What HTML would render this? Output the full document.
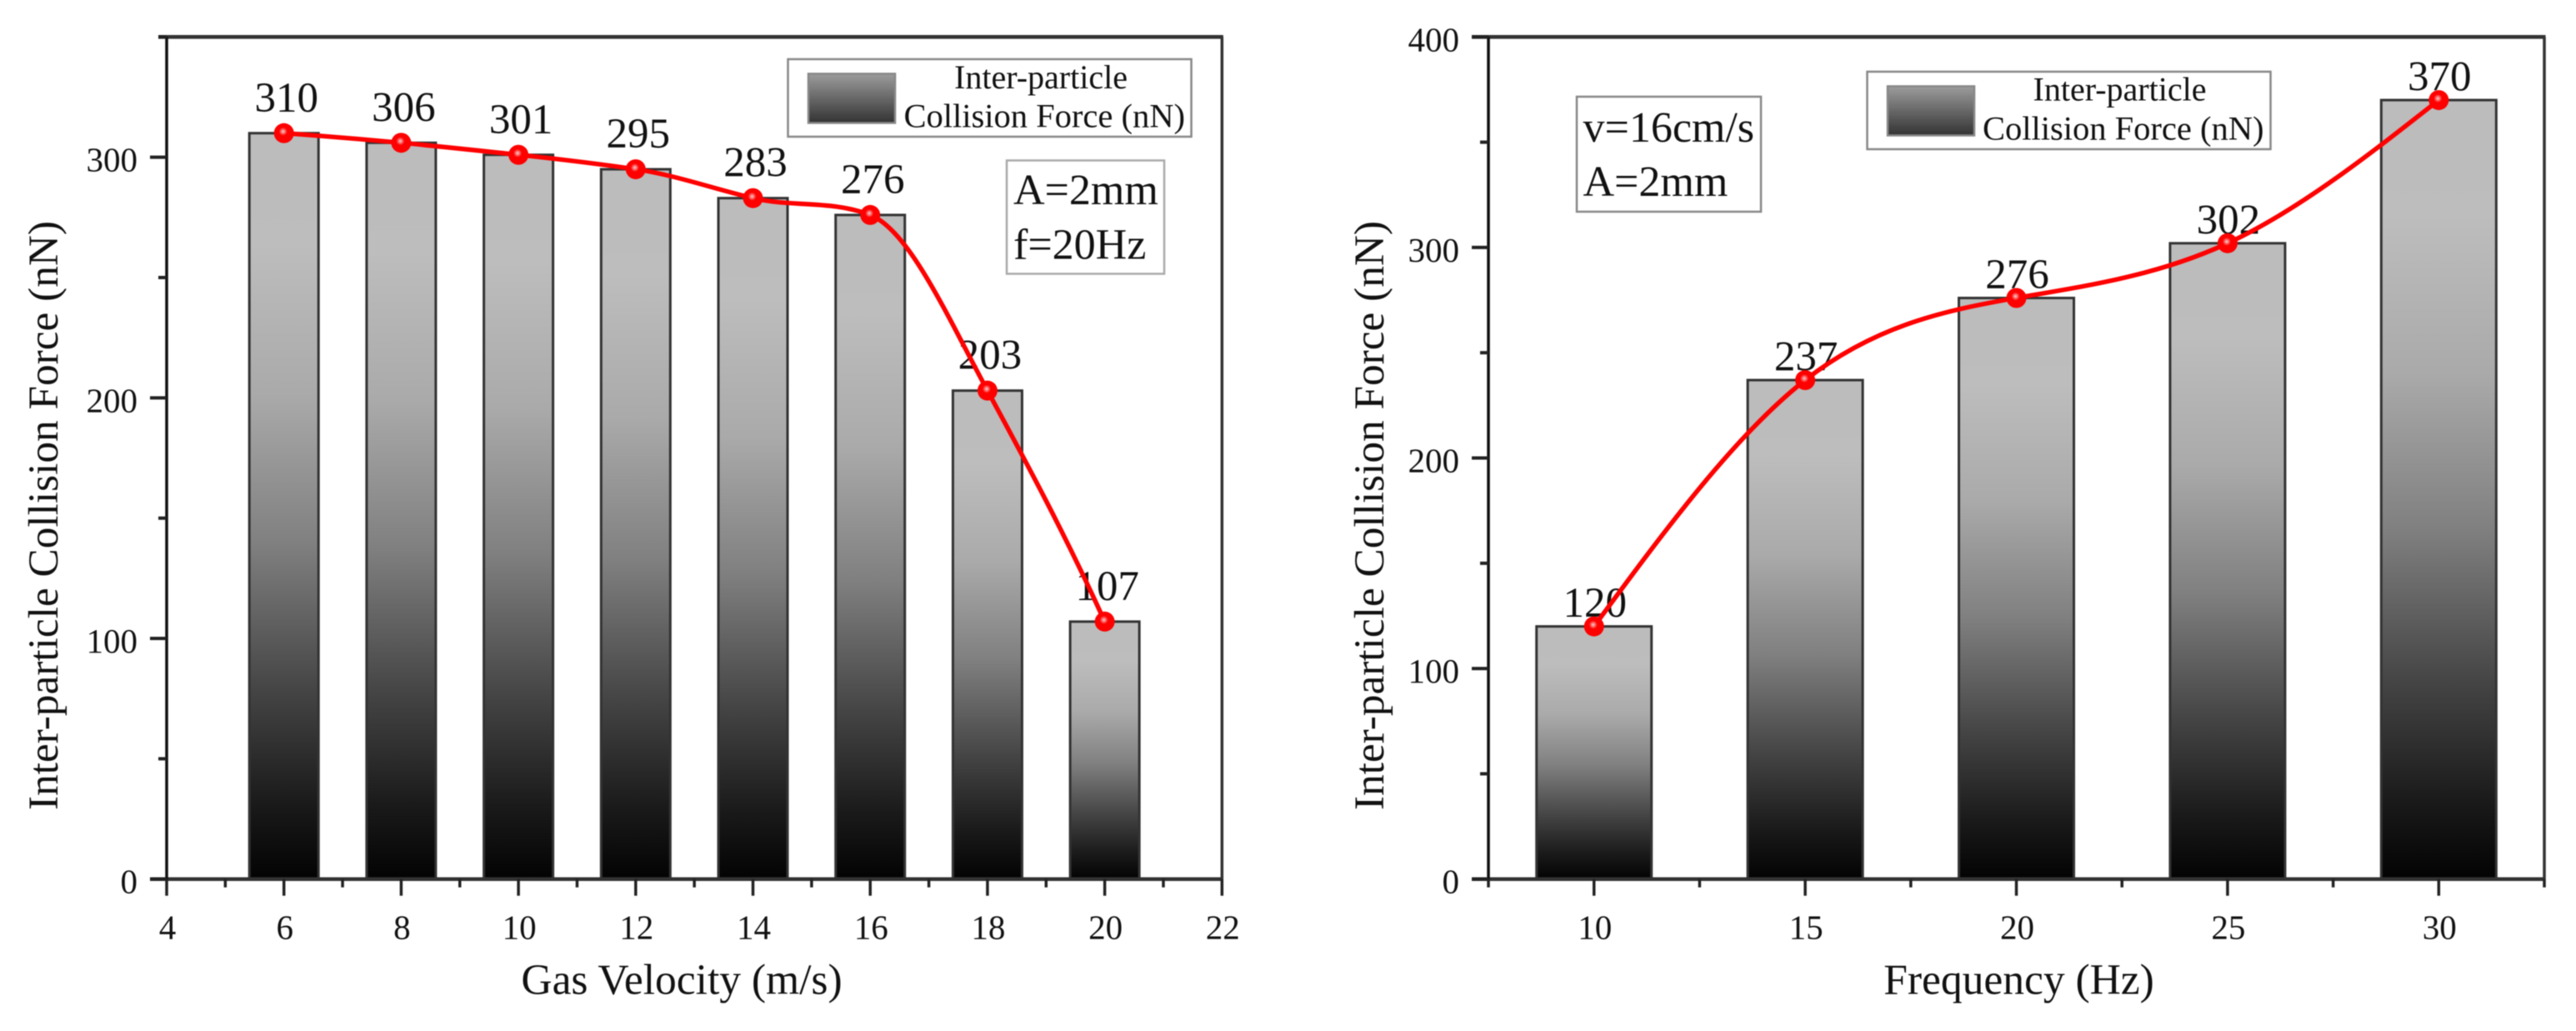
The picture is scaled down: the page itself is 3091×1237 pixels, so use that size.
<!DOCTYPE html>
<html lang="en">
<head>
<meta charset="utf-8">
<title>Inter-particle Collision Force charts</title>
<style>
html,body{margin:0;padding:0;background:#fff;width:3091px;height:1237px;overflow:hidden}
svg{display:block;filter:blur(0.6px)}
text{font-family:"Liberation Serif","Times New Roman",serif;fill:#111}
</style>
</head>
<body>
<svg id="fig" xmlns="http://www.w3.org/2000/svg" width="3091" height="1237" viewBox="0 0 3091 1237">
  <defs>
    <linearGradient id="barGrad" x1="0" y1="0" x2="0" y2="1">
      <stop offset="0" stop-color="#bcbcbc"/>
      <stop offset="0.15" stop-color="#bdbdbd"/>
      <stop offset="0.35" stop-color="#aaaaaa"/>
      <stop offset="0.55" stop-color="#808080"/>
      <stop offset="0.75" stop-color="#444444"/>
      <stop offset="0.9" stop-color="#1a1a1a"/>
      <stop offset="1" stop-color="#030303"/>
    </linearGradient>
    <linearGradient id="swatchGrad" x1="0" y1="0" x2="0" y2="1">
      <stop offset="0" stop-color="#9c9c9c"/>
      <stop offset="1" stop-color="#333333"/>
    </linearGradient>
    <radialGradient id="markerHi" cx="0.5" cy="0.5" r="0.5">
      <stop offset="0" stop-color="#ffd0d0"/>
      <stop offset="1" stop-color="#ff0000"/>
    </radialGradient>
  </defs>

  <g id="left-chart"></g>
  <g id="right-chart"></g>

  <g>
    <rect x="945.5" y="71" width="484" height="93" fill="#fff" stroke="#888" stroke-width="2.5"/>
    <rect x="970" y="88.5" width="104" height="59" fill="url(#swatchGrad)" stroke="#888" stroke-width="2.5"/>
    <text x="1249" y="106" font-size="40" text-anchor="middle">Inter-particle</text>
    <text x="1084.5" y="152.5" font-size="40.5">Collision Force (nN)</text>
  </g>
  <g>
    <rect x="1208" y="192.5" width="189" height="136" fill="#fff" stroke="#aaa" stroke-width="2.5"/>
    <text x="1216" y="245" font-size="52">A=2mm</text>
    <text x="1216" y="310.5" font-size="52">f=20Hz</text>
  </g>

  <g>
    <rect x="2240.5" y="86" width="484" height="93" fill="#fff" stroke="#888" stroke-width="2.5"/>
    <rect x="2265" y="103.5" width="104" height="59" fill="url(#swatchGrad)" stroke="#888" stroke-width="2.5"/>
    <text x="2543.5" y="120.5" font-size="40" text-anchor="middle">Inter-particle</text>
    <text x="2379" y="167.5" font-size="40.5">Collision Force (nN)</text>
  </g>
  <g>
    <rect x="1892" y="116" width="221" height="138" fill="#fff" stroke="#888" stroke-width="2.5"/>
    <text x="1899.5" y="170" font-size="52">v=16cm/s</text>
    <text x="1899.5" y="235" font-size="52">A=2mm</text>
  </g>

  <text transform="translate(69,618.5) rotate(-90)" font-size="51.3" text-anchor="middle">Inter-particle Collision Force (nN)</text>
  <text x="818" y="1192.5" font-size="51.5" text-anchor="middle">Gas Velocity (m/s)</text>
  <text transform="translate(1660,618.5) rotate(-90)" font-size="51.3" text-anchor="middle">Inter-particle Collision Force (nN)</text>
  <text x="2422.5" y="1192.5" font-size="51.5" text-anchor="middle">Frequency (Hz)</text>
</svg>

<script>
// Left chart data
const velocityCategories = [6, 8, 10, 12, 14, 16, 18, 20];
const velocityForce = [310, 306, 301, 295, 283, 276, 203, 107];
const velocityXMajorTicks = [4, 6, 8, 10, 12, 14, 16, 18, 20, 22];
const velocityXMinorTicks = [5, 7, 9, 11, 13, 15, 17, 19, 21];
const velocityYMajorTicks = [0, 100, 200, 300];
const velocityYMinorTicks = [50, 150, 250, 350];

// Right chart data
const frequencyCategories = [10, 15, 20, 25, 30];
const frequencyForce = [120, 237, 276, 302, 370];
const frequencyXMajorTicks = [10, 15, 20, 25, 30];
const frequencyXMinorTicks = [7.5, 12.5, 17.5, 22.5, 27.5, 32.5];
const frequencyYMajorTicks = [0, 100, 200, 300, 400];
const frequencyYMinorTicks = [50, 150, 250, 350];

const SVGNS = 'http://www.w3.org/2000/svg';

function mk(parent, tag, attrs, txt) {
  const el = document.createElementNS(SVGNS, tag);
  for (const k in attrs) el.setAttribute(k, attrs[k]);
  if (txt !== undefined) el.textContent = txt;
  parent.appendChild(el);
  return el;
}

// Akima tangents through the data points
function akimaTangents(xs, ys) {
  const n = xs.length, m = [];
  for (let i = 0; i < n - 1; i++) m.push((ys[i + 1] - ys[i]) / (xs[i + 1] - xs[i]));
  const e = m.slice();
  e.unshift(2 * m[0] - m[1]);
  e.unshift(2 * e[0] - m[0]);
  e.push(2 * m[n - 2] - m[n - 3]);
  e.push(2 * e[e.length - 1] - m[n - 2]);
  const t = [];
  for (let i = 0; i < n; i++) {
    const a = Math.abs(e[i + 3] - e[i + 2]), b = Math.abs(e[i + 1] - e[i]);
    t.push(a + b < 1e-9 ? (e[i + 1] + e[i + 2]) / 2 : (a * e[i + 1] + b * e[i + 2]) / (a + b));
  }
  return t;
}

// Natural cubic spline tangents (equal or unequal spacing) via Thomas algorithm
function naturalTangents(xs, ys) {
  const n = xs.length, h = [], m = [];
  for (let i = 0; i < n - 1; i++) {
    h.push(xs[i + 1] - xs[i]);
    m.push((ys[i + 1] - ys[i]) / h[i]);
  }
  const a = new Array(n).fill(0), b = new Array(n).fill(0), c = new Array(n).fill(0), r = new Array(n).fill(0);
  b[0] = 2; c[0] = 1; r[0] = 3 * m[0];
  for (let i = 1; i < n - 1; i++) {
    a[i] = h[i];
    b[i] = 2 * (h[i - 1] + h[i]);
    c[i] = h[i - 1];
    r[i] = 3 * (h[i] * m[i - 1] + h[i - 1] * m[i]);
  }
  a[n - 1] = 1; b[n - 1] = 2; r[n - 1] = 3 * m[n - 2];
  for (let i = 1; i < n; i++) {
    const w = a[i] / b[i - 1];
    b[i] -= w * c[i - 1];
    r[i] -= w * r[i - 1];
  }
  const d = new Array(n);
  d[n - 1] = r[n - 1] / b[n - 1];
  for (let i = n - 2; i >= 0; i--) d[i] = (r[i] - c[i] * d[i + 1]) / b[i];
  return d;
}

function drawChart(cfg) {
  const g = cfg.root;
  const X = v => cfg.left + (v - cfg.xMin) / (cfg.xMax - cfg.xMin) * (cfg.right - cfg.left);
  const Y = v => cfg.bottom - (v - cfg.yMin) / (cfg.yMax - cfg.yMin) * (cfg.bottom - cfg.top);

  // bars
  cfg.cats.forEach((c, i) => {
    const y = Y(cfg.vals[i]);
    const el = mk(g, 'rect', {x: X(c) - cfg.barW / 2, y: y, width: cfg.barW, height: Y(0) - y,
      fill: 'url(#barGrad)', stroke: '#333', 'stroke-width': 3});
    
    
  });

  // axis frame
  const frame = [
    [cfg.left - 20 * cfg.topExt, Y(cfg.yMax), cfg.right + 1.5, Y(cfg.yMax), 4.7, '#333'],
    [cfg.left - 20, Y(0), cfg.right + 1.5, Y(0), 4.5, '#333'],
    [cfg.left, Y(cfg.yMax), cfg.left, Y(0), 3.5, '#111'],
    [cfg.right, Y(cfg.yMax), cfg.right, Y(0), 3.5, '#333']
  ];
  frame.forEach(f => {
    const el = mk(g, 'line', {x1: f[0], y1: f[1], x2: f[2], y2: f[3], 'stroke-width': f[4], stroke: f[5]});
    
    
  });

  // x ticks
  cfg.xMajor.forEach(v => {
    const t = mk(g, 'line', {x1: X(v), y1: Y(0), x2: X(v), y2: Y(0) + 20, stroke: '#222', 'stroke-width': 3.5});
    
    
    const l = mk(g, 'text', {x: X(v) + 1, y: 1126.5, 'font-size': 41, 'text-anchor': 'middle', fill: '#333'}, String(v));
    
    
  });
  cfg.xMinor.forEach(v => {
    const t = mk(g, 'line', {x1: X(v), y1: Y(0), x2: X(v), y2: Y(0) + 10, stroke: '#222', 'stroke-width': 3.5});
    
    
  });

  // y ticks
  cfg.yMajor.forEach(v => {
    const t = mk(g, 'line', {x1: cfg.left - 20, y1: Y(v), x2: cfg.left, y2: Y(v), stroke: '#222', 'stroke-width': 4});
    
    
    const l = mk(g, 'text', {x: cfg.left - 35, y: Y(v) + 17, 'font-size': 41, 'text-anchor': 'end', fill: '#333'}, String(v));
    
    
  });
  cfg.yMinor.forEach(v => {
    const t = mk(g, 'line', {x1: cfg.left - 10, y1: Y(v), x2: cfg.left, y2: Y(v), stroke: '#222', 'stroke-width': 4});
    
    
  });

  // data labels
  cfg.cats.forEach((c, i) => {
    const l = mk(g, 'text', {x: X(c) + cfg.labelDx, y: Y(cfg.vals[i]) - cfg.labelDy, 'font-size': 51, 'text-anchor': 'middle'}, String(cfg.vals[i]));
    
    
  });

  // spline
  const t = cfg.tangents(cfg.cats, cfg.vals);
  let d = 'M' + X(cfg.cats[0]) + ' ' + Y(cfg.vals[0]);
  for (let i = 0; i < cfg.cats.length - 1; i++) {
    const h = cfg.cats[i + 1] - cfg.cats[i];
    d += ' C' + X(cfg.cats[i] + h / 3) + ' ' + Y(cfg.vals[i] + t[i] * h / 3) + ' ' +
         X(cfg.cats[i + 1] - h / 3) + ' ' + Y(cfg.vals[i + 1] - t[i + 1] * h / 3) + ' ' +
         X(cfg.cats[i + 1]) + ' ' + Y(cfg.vals[i + 1]);
  }
  const curve = mk(g, 'path', {d: d, fill: 'none', stroke: '#ff0000', 'stroke-width': 5.5});
  
  

  // markers
  cfg.cats.forEach((c, i) => {
    const m = mk(g, 'circle', {cx: X(c), cy: Y(cfg.vals[i]), r: 12, fill: '#ff0000'});
    
    
    const h = mk(g, 'circle', {cx: X(c) - 1, cy: Y(cfg.vals[i]) - 2, r: 5, fill: 'url(#markerHi)'});
    
    
  });
}

drawChart({
  root: document.getElementById('left-chart'),
  left: 200, right: 1466.3, top: 44.3, bottom: 1054.7,
  xMin: 4, xMax: 22, yMin: 0, yMax: 350, barW: 83, topExt: 0.5,
  cats: velocityCategories, vals: velocityForce,
  xMajor: velocityXMajorTicks, xMinor: velocityXMinorTicks,
  yMajor: velocityYMajorTicks, yMinor: velocityYMinorTicks,
  labelDx: 3, labelDy: 26, tangents: akimaTangents
});

drawChart({
  root: document.getElementById('right-chart'),
  left: 1786, right: 3053, top: 44.3, bottom: 1054.7,
  xMin: 7.5, xMax: 32.5, yMin: 0, yMax: 400, barW: 138, topExt: 1,
  cats: frequencyCategories, vals: frequencyForce,
  xMajor: frequencyXMajorTicks, xMinor: frequencyXMinorTicks,
  yMajor: frequencyYMajorTicks, yMinor: frequencyYMinorTicks,
  labelDx: 1, labelDy: 11.5, tangents: naturalTangents
});
</script>
</body>
</html>
